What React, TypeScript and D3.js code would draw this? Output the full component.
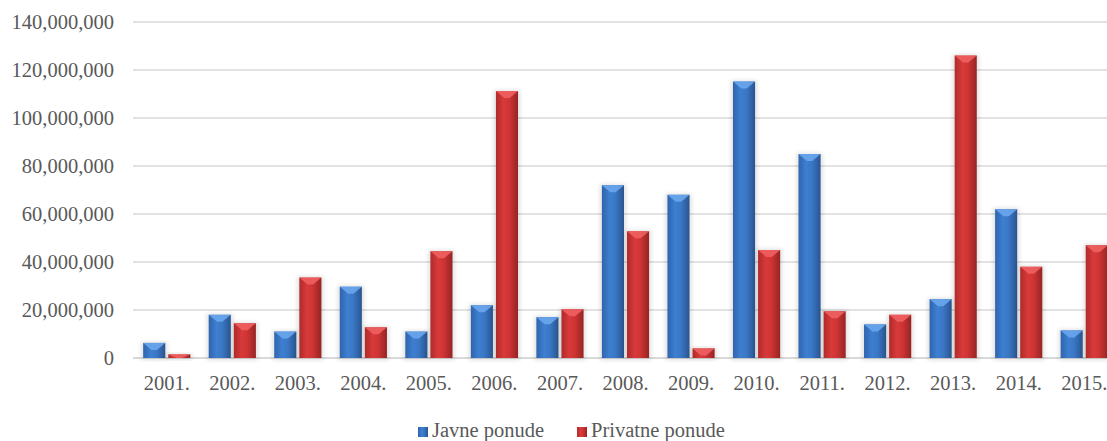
import * as d3 from "d3";

const years = ["2001.", "2002.", "2003.", "2004.", "2005.", "2006.", "2007.", "2008.", "2009.", "2010.", "2011.", "2012.", "2013.", "2014.", "2015."];
const javne = [6.3e6, 18e6, 11e6, 29.7e6, 11e6, 22e6, 17e6, 72e6, 68e6, 115.2e6, 85e6, 14e6, 24.5e6, 62e6, 11.5e6];
const privatne = [1.5e6, 14.5e6, 33.5e6, 12.8e6, 44.5e6, 111.2e6, 20.3e6, 52.8e6, 4e6, 45e6, 19.5e6, 18e6, 126e6, 38e6, 47e6];
const yTicks = [0, 20e6, 40e6, 60e6, 80e6, 100e6, 120e6, 140e6];
const seriesNames = ["Javne ponude", "Privatne ponude"];

const W = 1107, H = 441;
const font = "Liberation Serif, Times New Roman, DejaVu Serif, serif";
const fs = 20.5;

export default function App() {
  const x = d3.scaleBand().domain(years).range([134, 1117]).paddingInner(0.28).paddingOuter(0.14);
  const sub = d3.scaleBand().domain(["a", "b"]).range([0, x.bandwidth()]).paddingInner(0.12);
  const y = d3.scaleLinear().domain([0, 140e6]).range([358, 22]);
  const fmt = d3.format(",");
  const bw = sub.bandwidth();

  const series = [
    { key: "a", vals: javne, id: "blue" },
    { key: "b", vals: privatne, id: "red" },
  ];

  return (
    <svg width={W} height={H} style={{ position: "absolute", left: 0, top: 0, background: "#fff", fontFamily: font }}>
      <defs>
        <linearGradient id="blue" x1="0" x2="1" y1="0" y2="0">
          <stop offset="0" stopColor="#2f64ad" />
          <stop offset="0.35" stopColor="#3d7fd0" />
          <stop offset="0.6" stopColor="#3a78c6" />
          <stop offset="1" stopColor="#2a5590" />
        </linearGradient>
        <linearGradient id="red" x1="0" x2="1" y1="0" y2="0">
          <stop offset="0" stopColor="#b02a2a" />
          <stop offset="0.35" stopColor="#d83a3a" />
          <stop offset="0.6" stopColor="#cf3434" />
          <stop offset="1" stopColor="#962424" />
        </linearGradient>
        <filter id="sh" x="-30%" y="-10%" width="160%" height="120%">
          <feGaussianBlur stdDeviation="2" />
        </filter>
      </defs>

      {yTicks.map((t) => (
        <g key={t}>
          <line x1={133} x2={1107} y1={y(t)} y2={y(t)} stroke="#d9d9d9" strokeWidth={t === 0 ? 2 : 1.3} />
          <text x={114} y={y(t)} dy="0.35em" textAnchor="end" style={{ fontFamily: font }} fontSize={fs} fill="#595959">
            {fmt(t)}
          </text>
        </g>
      ))}

      {years.map((yr, i) => (
        <g key={yr}>
          {series.map((s) => {
            const bx = (x(yr) as number) + (sub(s.key) as number);
            const top = y(s.vals[i]);
            const h = y(0) - top;
            const cap = Math.min(7, h);
            const light = s.id === "blue" ? "#6aa6ec" : "#f06060";
            return (
              <g key={s.key}>
                <rect x={bx - 2} y={top - 1} width={bw + 4} height={h + 3} fill="#000" opacity={0.12} filter="url(#sh)" />
                <rect x={bx} y={top} width={bw} height={h} fill={`url(#${s.id})`} />
                <polygon
                  points={`${bx},${top} ${bx + bw},${top} ${bx + bw * 0.62},${top + cap} ${bx + bw * 0.38},${top + cap}`}
                  fill={light}
                  opacity={0.9}
                />
              </g>
            );
          })}
          <text x={(x(yr) as number) + x.bandwidth() / 2} y={390} textAnchor="middle" style={{ fontFamily: font }} fontSize={fs} fill="#595959">
            {yr}
          </text>
        </g>
      ))}

      {seriesNames.map((n, i) => {
        const lx = i === 0 ? 418 : 577;
        return (
          <g key={n}>
            <rect x={lx} y={427} width={10} height={10} fill={`url(#${i === 0 ? "blue" : "red"})`} />
            <text x={lx + 14} y={437} style={{ fontFamily: font }} fontSize={fs} fill="#595959">
              {n}
            </text>
          </g>
        );
      })}
    </svg>
  );
}
